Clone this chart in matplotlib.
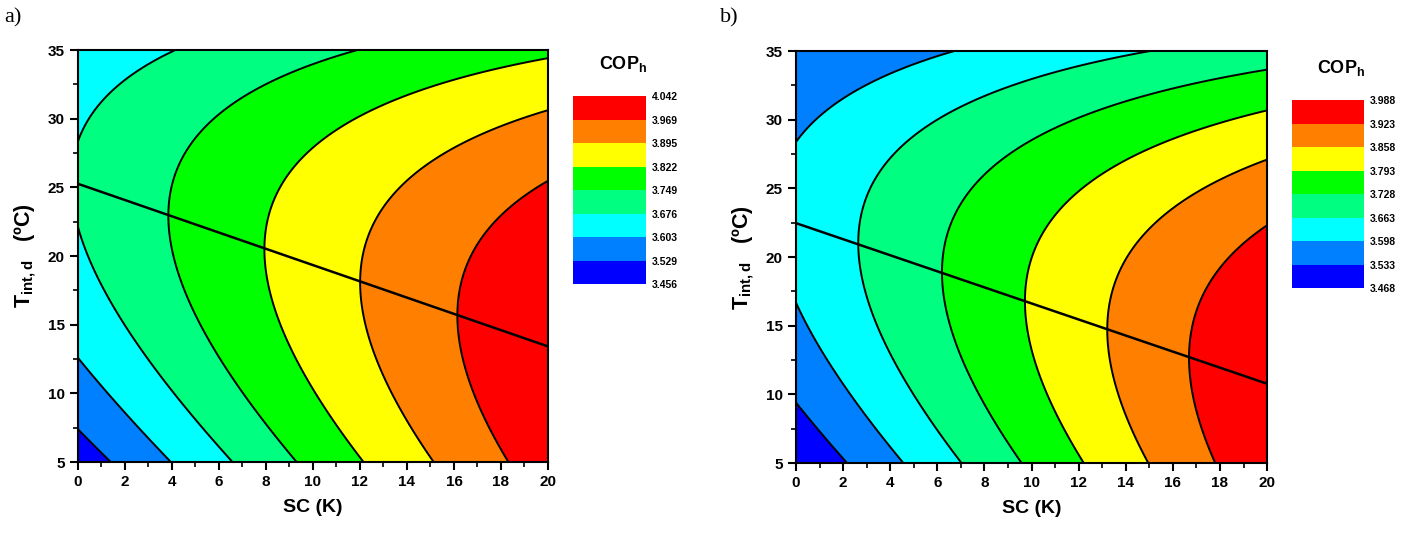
import numpy as np
import matplotlib
matplotlib.use("Agg")
import matplotlib.pyplot as plt
from matplotlib.colors import ListedColormap, BoundaryNorm
from matplotlib.cm import ScalarMappable
from matplotlib.ticker import MultipleLocator

plt.rcParams["font.family"] = ["Liberation Sans", "DejaVu Sans"]
plt.rcParams["font.weight"] = "bold"
plt.rcParams["mathtext.fontset"] = "custom"
plt.rcParams["mathtext.rm"] = "Liberation Sans:bold"
plt.rcParams["mathtext.it"] = "Liberation Sans:bold"
plt.rcParams["mathtext.bf"] = "Liberation Sans:bold"

# legend levels of COP_h
levels_a = [3.456, 3.529, 3.603, 3.676, 3.749, 3.822, 3.895, 3.969, 4.042]
levels_b = [3.468, 3.533, 3.598, 3.663, 3.728, 3.793, 3.858, 3.923, 3.988]
band_colors = ["#0000ff", "#0080ff", "#00ffff", "#00ff80",
               "#00ff00", "#ffff00", "#ff8000", "#ff0000"]

# points, panel a: SC (K), T_int,d (C), COP_h
a_sc = [0, 1.32,
        0, 3.9, 1.95,
        0, 0, 1.1, 2.51, 4.14, 6.55, 2.51, 3.93,
        3.83, 4.64, 6.19, 10.08, 11.92, 9.31, 5.2, 6.34,
        7.92, 10.08, 12.49, 14.62, 16.74, 20, 8.46, 10.08, 12.21,
        12.0, 12.35, 13.62, 15.32, 17.59, 20, 13.35, 15.18,
        16.06, 16.9, 18.44, 20, 16.6, 18.29]
a_t = [7.35, 5,
       12.6, 5, 9.0,
       28.46, 22.1, 31.3, 33.5, 35, 5, 13.6, 10.7,
       22.9, 27.93, 30.6, 33.94, 35, 5, 14.8, 11.67,
       20.4, 27.8, 30.6, 32.05, 33.27, 34.48, 15.07, 10.2, 5,
       18.0, 21.6, 25.0, 27.2, 29.14, 30.55, 10.2, 5,
       15.68, 20.4, 23.56, 25.38, 10.7, 5]
a_cop = [3.529] * 2 + [3.603] * 3 + [3.676] * 8 + [3.749] * 8 + \
        [3.822] * 9 + [3.895] * 8 + [3.969] * 6

# panel b
b_sc = [0, 2.12,
        0, 0.45, 2.23, 6.75, 0, 2.15, 4.53,
        2.58, 3.57, 5.69, 10.0, 14.73, 3.85, 5.26, 7.0,
        6.09, 6.96, 8.66, 9.72, 13.96, 20, 7.53, 9.55,
        9.63, 10.14, 12.55, 16.08, 20, 10.68, 12.19,
        13.11, 14.25, 16.8, 20, 13.86, 14.95,
        16.6, 17.05, 18.6, 20, 16.93, 17.81]
b_t = [9.36, 5,
       28.26, 29.2, 31.9, 35, 16.6, 10.78, 5,
       20.97, 26.07, 29.95, 32.87, 35, 13.2, 9.56, 5,
       18.79, 24.1, 27.04, 28.0, 31.17, 33.72, 10.78, 5,
       16.6, 20.73, 25.1, 28.74, 30.63, 10.78, 5,
       14.66, 20.48, 24.85, 26.92, 9.56, 5,
       12.67, 16.84, 20.5, 22.18, 9.56, 5]
b_cop = [3.533] * 2 + [3.598] * 7 + [3.663] * 8 + [3.728] * 8 + \
        [3.793] * 7 + [3.858] * 6 + [3.923] * 6

# optimum line (end points)
line_sc = [0, 20]
line_a_t = [25.26, 13.42]
line_b_t = [22.47, 10.78]


def terms(x, y):
    return [np.ones_like(x), x, y, x**2, y**2, x*y, x**3, y**3, x**2*y, x*y**2]


def surface(sc, t, cop, gx, gy):
    # least-squares cubic surface through the read contour points
    sc, t = np.asarray(sc, float) / 20, (np.asarray(t, float) - 5) / 30
    A = np.column_stack(terms(sc, t))
    c, *_ = np.linalg.lstsq(A, np.asarray(cop), rcond=None)
    return sum(ci * ti for ci, ti in zip(c, terms(gx / 20, (gy - 5) / 30)))


def panel(fig, rect, crect, sc, t, cop, levels, line_t, tag, tag_x):
    ax = fig.add_axes(rect)
    gx, gy = np.meshgrid(np.linspace(0, 20, 301), np.linspace(5, 35, 401))
    z = surface(sc, t, cop, gx, gy)
    z = np.clip(z, levels[0] + 1e-6, levels[-1] - 1e-6)
    cmap = ListedColormap(band_colors)
    norm = BoundaryNorm(levels, cmap.N)
    ax.contourf(gx, gy, z, levels=levels, cmap=cmap, norm=norm)
    ax.contour(gx, gy, z, levels=levels[1:-1], colors="black", linewidths=1.4)
    ax.plot(line_sc, line_t, color="black", lw=1.8)
    ax.set_xlim(0, 20)
    ax.set_ylim(5, 35)
    ax.xaxis.set_major_locator(MultipleLocator(2))
    ax.xaxis.set_minor_locator(MultipleLocator(1))
    ax.yaxis.set_major_locator(MultipleLocator(5))
    ax.yaxis.set_minor_locator(MultipleLocator(2.5))
    ax.tick_params(which="major", direction="out", length=6, width=1.5, labelsize=11)
    ax.tick_params(which="minor", direction="out", length=3.5, width=1.2)
    for s in ax.spines.values():
        s.set_linewidth(1.5)
    ax.set_xlabel("SC (K)", fontsize=14, fontweight="bold", labelpad=7)
    ax.set_ylabel(r"$\mathrm{T_{int,d}}$   (ºC)", fontsize=15.5, fontweight="bold", labelpad=7)

    cax = fig.add_axes(crect)
    cb = fig.colorbar(ScalarMappable(norm=norm, cmap=cmap), cax=cax,
                      ticks=levels, format="%.3f")
    cb.outline.set_visible(False)
    cax.tick_params(length=0, labelsize=7.5, pad=4)
    fig.text(crect[0] + crect[2] * 0.68, crect[1] + crect[3] + 0.06,
             r"COP$_\mathrm{h}$", ha="center", va="center", fontsize=13, fontweight="bold")
    fig.text(tag_x, 0.985, tag, family="Liberation Serif", fontweight="normal",
             fontsize=16, va="top", ha="left")
    return ax


fig = plt.figure(figsize=(14.17, 5.36), dpi=100)
panel(fig, [0.0550, 0.138, 0.3317, 0.7687], [0.4044, 0.4696, 0.0515, 0.3513],
      a_sc, a_t, a_cop, levels_a, line_a_t, "a)", 0.003)
panel(fig, [0.5618, 0.136, 0.3324, 0.7687], [0.9116, 0.4621, 0.0513, 0.3513],
      b_sc, b_t, b_cop, levels_b, line_b_t, "b)", 0.508)
fig.savefig("out.png", dpi=100)
